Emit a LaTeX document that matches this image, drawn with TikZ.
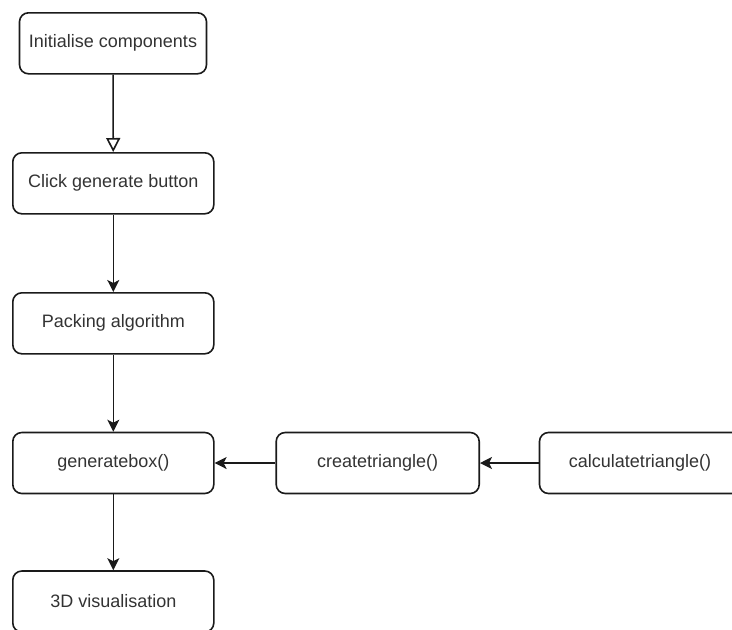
\documentclass[tikz,border=0pt]{standalone}
\usepackage{fontspec}
\setmainfont{Liberation Sans}
\usetikzlibrary{arrows.meta}
\definecolor{txt}{HTML}{333333}
\definecolor{ln}{HTML}{1A1A1A}
\begin{document}
\begin{tikzpicture}[x=1pt,y=-1pt,
  box/.style={draw=ln,line width=1.6pt,rounded corners=9pt,fill=white,
    minimum height=61pt,inner sep=0pt,text=txt,font=\fontsize{18pt}{21pt}\selectfont},
  flow/.style={draw=ln,line width=1.6pt,-{Stealth[length=12pt,width=12pt,inset=3pt]}},
  openflow/.style={draw=ln,line width=1.6pt,-{Triangle[open,length=14pt,width=14pt]}}]
\clip (0,0) rectangle (732,630);
\fill[white] (0,0) rectangle (732,630);
\node[box,minimum width=187pt] (init) at (113,43.3) {Initialise components};
\node[box,minimum width=201pt] (click) at (113.3,183.3) {Click generate button};
\node[box,minimum width=201pt] (pack) at (113.3,323.3) {Packing algorithm};
\node[box,minimum width=201pt] (gen) at (113.3,463) {generatebox()};
\node[box,minimum width=203pt] (create) at (377.7,463) {createtriangle()};
\node[box,minimum width=201pt] (calc) at (640,463) {calculatetriangle()};
\node[box,minimum width=201pt] (vis) at (113.3,601.5) {3D visualisation};
\draw[openflow] (init) -- (click);
\draw[flow] (click) -- (pack);
\draw[flow] (pack) -- (gen);
\draw[flow] (gen) -- (vis);
\draw[flow] (create) -- (gen);
\draw[flow] (calc) -- (create);
\end{tikzpicture}
\end{document}
